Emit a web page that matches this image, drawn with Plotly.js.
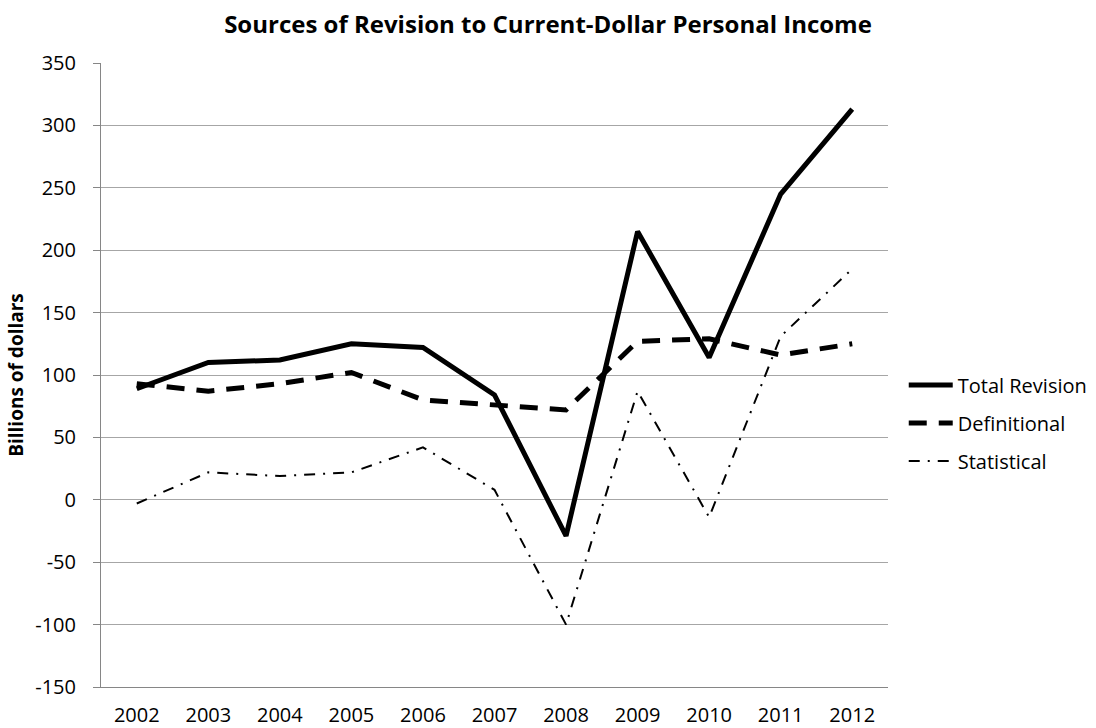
<!DOCTYPE html>
<html>
<head>
<meta charset="utf-8">
<script src="https://cdn.plot.ly/plotly-3.0.1.min.js"></script>
<style>
  html, body { margin: 0; padding: 0; background: #ffffff; }
  #chart { width: 1096px; height: 728px; }
</style>
</head>
<body>
<div id="chart"></div>
<script>
// Categories (years)
const years = ["2002", "2003", "2004", "2005", "2006", "2007", "2008", "2009", "2010", "2011", "2012"];

// Series values (billions of dollars)
const totalRevision = [89, 110, 112, 125, 122, 84, -29, 215, 114, 245, 313];
const definitional  = [93, 87, 93, 102, 80, 76, 72, 127, 129, 116, 125];
const statistical   = [-3, 22, 19, 22, 42, 8, -100, 87, -14, 131, 185];

// Axis ticks
const yTicks = [-150, -100, -50, 0, 50, 100, 150, 200, 250, 300, 350];

const FONT = "'Open Sans', 'Noto Sans', sans-serif";
const LEGEND_FONT = { family: FONT, size: 20, color: "#000000" };

const traces = [
  {
    x: years, y: totalRevision, name: "Total Revision", type: "scatter", mode: "lines",
    line: { color: "#000000", width: 5, dash: "solid" }, legend: "legend"
  },
  {
    x: years, y: definitional, name: "Definitional", type: "scatter", mode: "lines",
    line: { color: "#000000", width: 5, dash: "18px,12px" }, legend: "legend2"
  },
  {
    x: years, y: statistical, name: "Statistical", type: "scatter", mode: "lines",
    line: { color: "#000000", width: 2, dash: "11px,8px,2px,8px" }, legend: "legend3"
  }
];

function legendAt(yPaper) {
  return {
    x: 1.02, xanchor: "left",
    y: yPaper, yanchor: "middle",
    font: LEGEND_FONT,
    bgcolor: "rgba(0,0,0,0)",
    itemwidth: 44,
    tracegroupgap: 0
  };
}

const layout = {
  width: 1096, height: 728,
  paper_bgcolor: "#ffffff", plot_bgcolor: "#ffffff",
  margin: { l: 101, r: 208, t: 63, b: 41, pad: 0, autoexpand: false },
  font: { family: FONT, color: "#000000", size: 20 },
  title: {
    text: "<b>Sources of Revision to Current-Dollar Personal Income</b>",
    font: { family: FONT, size: 24, color: "#000000" },
    x: 0.5, xref: "container", xanchor: "center",
    y: 0.966, yref: "container", yanchor: "middle"
  },
  xaxis: {
    type: "category",
    range: [-0.5, years.length - 0.5],
    showgrid: false, zeroline: false,
    showline: true, linecolor: "#868686", linewidth: 1,
    ticks: "", ticklen: 0,
    ticklabelstandoff: 10,
    tickfont: { family: FONT, size: 20, color: "#000000" },
    fixedrange: true
  },
  yaxis: {
    range: [-150, 350],
    tickvals: yTicks,
    ticktext: yTicks.map(String),
    showgrid: true, gridcolor: "#a6a6a6", gridwidth: 1,
    zeroline: false,
    showline: true, linecolor: "#868686", linewidth: 1,
    ticks: "outside", ticklen: 7, tickcolor: "#868686", tickwidth: 1,
    ticklabelstandoff: 13,
    tickfont: { family: FONT, size: 20, color: "#000000" },
    title: {
      text: "<b>Billions of dollars</b>",
      font: { family: FONT, size: 19, color: "#000000" },
      standoff: 6
    },
    fixedrange: true
  },
  showlegend: true,
  legend: legendAt(0.484),
  legend2: legendAt(0.423),
  legend3: legendAt(0.362)
};

Plotly.newPlot("chart", traces, layout, { displayModeBar: false, staticPlot: true });
</script>
</body>
</html>
